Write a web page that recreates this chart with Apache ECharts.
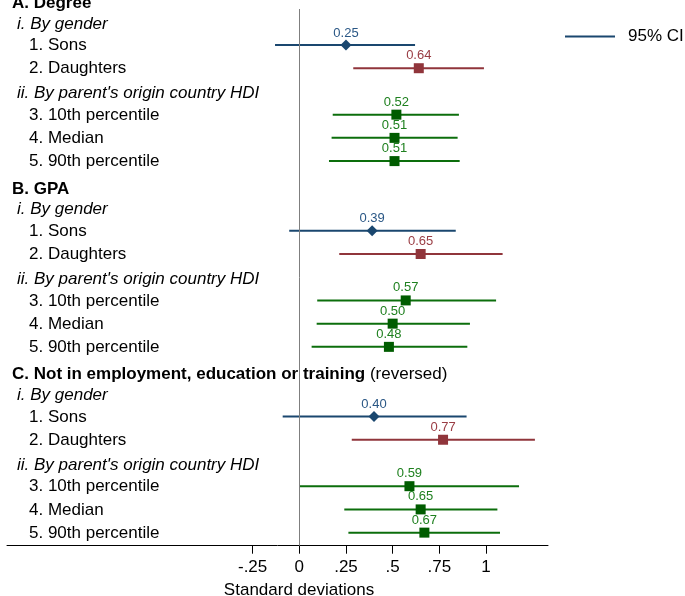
<!DOCTYPE html>
<html>
<head>
<meta charset="utf-8">
<title>Effect sizes by outcome</title>
<script src="https://cdn.jsdelivr.net/npm/echarts@6/dist/echarts.min.js"></script>
<style>
  html, body { margin: 0; padding: 0; background: #ffffff; }
  #chart { width: 685px; height: 596px; }
</style>
</head>
<body>
<div id="chart"></div>
<script>
// Panel, group and row labels
const panels = ['A. Degree', 'B. GPA', 'C. Not in employment, education or training'];
const panelNotes = ['', '', '(reversed)'];
const groups = ['i. By gender', "ii. By parent's origin country HDI"];
const items = ['1. Sons', '2. Daughters', '3. 10th percentile', '4. Median', '5. 90th percentile'];

// Point estimates and 95% confidence bounds (standard deviations), one entry per item
const degreeEst = [0.25, 0.64, 0.52, 0.51, 0.51];
const degreeLo  = [-0.130, 0.289, 0.179, 0.173, 0.159];
const degreeHi  = [0.620, 0.989, 0.855, 0.848, 0.859];

const gpaEst = [0.39, 0.65, 0.57, 0.50, 0.48];
const gpaLo  = [-0.054, 0.214, 0.096, 0.093, 0.066];
const gpaHi  = [0.838, 1.089, 1.054, 0.914, 0.900];

const neetEst = [0.40, 0.77, 0.59, 0.65, 0.67];
const neetLo  = [-0.089, 0.281, 0.001, 0.241, 0.263];
const neetHi  = [0.896, 1.262, 1.177, 1.061, 1.075];

const xTicks = [-0.25, 0, 0.25, 0.5, 0.75, 1];
const xTickLabels = ['-.25', '0', '.25', '.5', '.75', '1'];

const estimates = [degreeEst, gpaEst, neetEst];
const lows = [degreeLo, gpaLo, neetLo];
const highs = [degreeHi, gpaHi, neetHi];

// Layout of each panel: heading, group i, items 1-2, group ii, items 3-5
const ROWS_PER_PANEL = 8;
const itemRowOffset = [2, 3, 5, 6, 7];
const groupRowOffset = [1, 4];

const BLUE = '#1a476f';
const RED = '#90353b';
const GREEN = '#0c6e0c';
const GREEN_MARK = '#005c00';
const GREEN_TEXT = '#1f801f';
const FONT = '"Liberation Sans", Arial, Helvetica, sans-serif';

function lineColor(i) { return i === 0 ? BLUE : (i === 1 ? RED : GREEN); }
function markColor(i) { return i === 0 ? BLUE : (i === 1 ? RED : GREEN_MARK); }
function textColor(i) { return i === 0 ? '#2a5785' : (i === 1 ? '#9a3d44' : GREEN_TEXT); }

const X_MIN = -1.5656;
const X_MAX = 1.3321;

// Build data for the series
const ciData = [];
const pointData = [];
const panelLabelData = [];
const groupLabelData = [];
const itemLabelData = [];

panels.forEach((p, pi) => {
  const base = pi * ROWS_PER_PANEL;
  panelLabelData.push({ value: [X_MIN, base], name: p, note: panelNotes[pi] });
  groups.forEach((g, gi) => {
    groupLabelData.push({ value: [X_MIN, base + groupRowOffset[gi]], name: g });
  });
  items.forEach((it, ii) => {
    const row = base + itemRowOffset[ii];
    itemLabelData.push({ value: [X_MIN, row], name: it });
    ciData.push({ value: [lows[pi][ii], highs[pi][ii], row, ii] });
    pointData.push({
      value: [estimates[pi][ii], row],
      symbol: ii === 0 ? 'diamond' : 'rect',
      symbolSize: ii === 0 ? [11, 11] : [10, 10],
      itemStyle: { color: markColor(ii), opacity: 1 },
      label: { color: textColor(ii), distance: ii === 0 ? 0 : 1 }
    });
  });
});

// Text-only scatter series for the row captions on the left
function textSeries(data, distance, dy, style) {
  return {
    type: 'scatter',
    data: data,
    symbolSize: 0,
    clip: false,
    silent: true,
    z: 5,
    itemStyle: { opacity: 1 },
    label: Object.assign({
      show: true,
      position: 'right',
      distance: distance,
      offset: [0, dy],
      color: '#000000',
      fontFamily: FONT,
      fontSize: 17,
      formatter: (p) => p.name
    }, style)
  };
}

const chart = echarts.init(document.getElementById('chart'), null, { renderer: 'canvas' });

chart.setOption({
  animation: false,
  backgroundColor: '#ffffff',
  textStyle: { fontFamily: FONT },
  grid: { left: 7, right: 137, top: 9, bottom: 50.3, containLabel: false, outerBoundsMode: 'none' },
  legend: {
    data: [{ name: '95% CI', icon: 'rect' }],
    left: 565,
    top: 28,
    padding: 0,
    itemWidth: 50,
    itemHeight: 2,
    selectedMode: false,
    textStyle: { fontFamily: FONT, fontSize: 17, color: '#000000', padding: [0, 0, 0, 8] }
  },
  xAxis: {
    type: 'value',
    min: X_MIN,
    max: X_MAX,
    splitLine: { show: false },
    axisLine: { show: true, onZero: false, lineStyle: { color: '#000000', width: 1 } },
    axisTick: { show: true, length: 8, customValues: xTicks, lineStyle: { color: '#000000', width: 1 } },
    axisLabel: {
      customValues: xTicks,
      margin: 13,
      fontFamily: FONT,
      fontSize: 17,
      color: '#000000',
      formatter: (v) => {
        const k = xTicks.findIndex(t => Math.abs(t - v) < 1e-9);
        return k >= 0 ? xTickLabels[k] : '';
      }
    },
    name: 'Standard deviations',
    nameLocation: 'middle',
    nameGap: 36,
    nameTextStyle: { fontFamily: FONT, fontSize: 17, color: '#000000', padding: [0, 0, 0, 43] }
  },
  yAxis: {
    type: 'value',
    inverse: true,
    min: 0.45,
    max: 23.563,
    show: false
  },
  series: [
    {
      name: '95% CI',
      type: 'custom',
      data: ciData,
      encode: { x: [0, 1], y: 2 },
      itemStyle: { color: BLUE },
      z: 3,
      renderItem: (params, api) => {
        const row = api.value(2);
        const a = api.coord([api.value(0), row]);
        const b = api.coord([api.value(1), row]);
        return {
          type: 'line',
          shape: { x1: a[0], y1: a[1], x2: b[0], y2: b[1] },
          style: { stroke: lineColor(api.value(3)), lineWidth: 2 }
        };
      },
      markLine: {
        silent: true,
        symbol: ['none', 'none'],
        label: { show: false },
        lineStyle: { color: '#7f7f7f', width: 1, type: 'solid' },
        data: [{ xAxis: 0 }]
      }
    },
    {
      name: 'Estimate',
      type: 'scatter',
      data: pointData,
      z: 4,
      itemStyle: { opacity: 1 },
      label: {
        show: true,
        position: 'top',
        fontFamily: FONT,
        fontSize: 13,
        formatter: (p) => p.value[0].toFixed(2)
      }
    },
    textSeries(panelLabelData, 5, 4.5, {
      formatter: (p) => p.data.note ? '{b|' + p.name + '} {n|' + p.data.note + '}' : '{b|' + p.name + '}',
      rich: {
        b: { fontFamily: FONT, fontSize: 17, fontWeight: 'bold', color: '#000000' },
        n: { fontFamily: FONT, fontSize: 17, color: '#000000' }
      }
    }),
    textSeries(groupLabelData, 10, 2, { fontStyle: 'italic' }),
    textSeries(itemLabelData, 22, 0.5, {})
  ]
});
</script>
</body>
</html>
